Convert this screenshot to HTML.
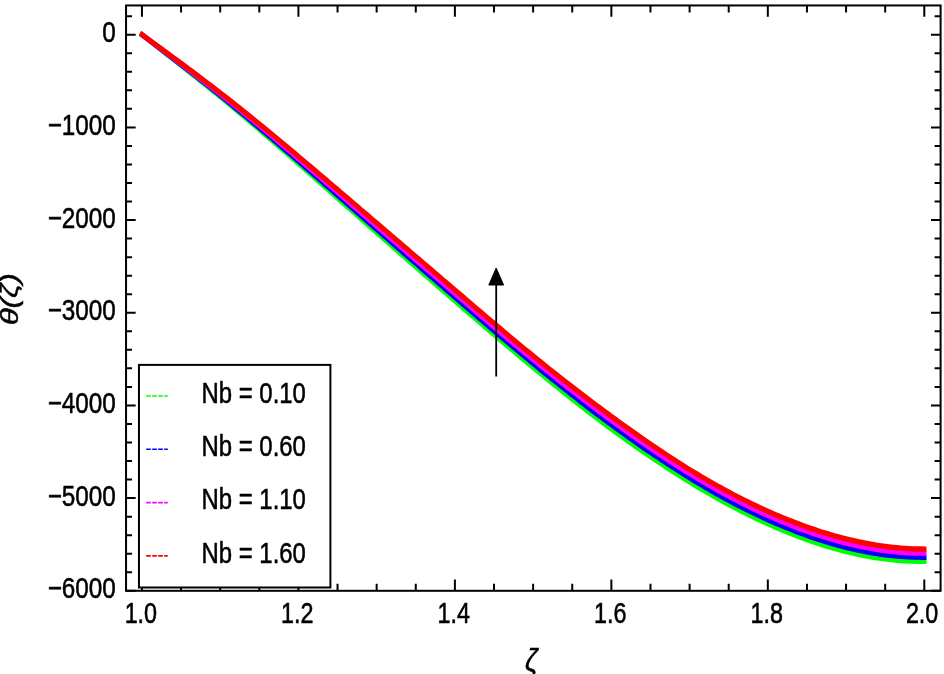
<!DOCTYPE html>
<html lang="en"><head><meta charset="utf-8"><title>Plot</title>
<style>html,body{margin:0;padding:0;background:#fff}body{width:944px;height:674px;overflow:hidden}svg{display:block}text{font-family:"Liberation Sans",sans-serif;fill:#000}</style></head><body>
<svg width="944" height="674" viewBox="0 0 944 674">
<rect width="944" height="674" fill="#fff"/>
<g transform="scale(1.0,1)">
<g transform="scale(0.8,1)">
<path d="M177.44,34.70 L182.33,37.77 L187.22,40.83 L192.11,43.89 L197.00,46.96 L201.89,50.02 L206.78,53.09 L211.67,56.16 L216.56,59.24 L221.44,62.32 L226.33,65.40 L231.22,68.49 L236.11,71.60 L241.00,74.71 L245.89,77.83 L250.78,80.96 L255.67,84.10 L260.56,87.25 L265.45,90.42 L270.34,93.60 L275.23,96.80 L280.12,100.01 L285.01,103.24 L289.90,106.49 L294.79,109.75 L299.68,113.02 L304.57,116.31 L309.46,119.61 L314.35,122.93 L319.24,126.26 L324.13,129.59 L329.02,132.94 L333.91,136.30 L338.80,139.67 L343.69,143.05 L348.58,146.44 L353.47,149.84 L358.36,153.24 L363.25,156.66 L368.14,160.08 L373.02,163.50 L377.91,166.93 L382.80,170.37 L387.69,173.81 L392.58,177.26 L397.47,180.72 L402.36,184.17 L407.25,187.63 L412.14,191.10 L417.03,194.56 L421.92,198.03 L426.81,201.49 L431.70,204.96 L436.59,208.43 L441.48,211.89 L446.37,215.35 L451.26,218.81 L456.15,222.26 L461.04,225.72 L465.93,229.16 L470.82,232.60 L475.71,236.04 L480.60,239.47 L485.49,242.90 L490.38,246.33 L495.27,249.76 L500.16,253.19 L505.05,256.61 L509.94,260.03 L514.83,263.45 L519.72,266.87 L524.61,270.28 L529.49,273.70 L534.38,277.11 L539.27,280.51 L544.16,283.92 L549.05,287.32 L553.94,290.72 L558.83,294.12 L563.72,297.51 L568.61,300.90 L573.50,304.29 L578.39,307.67 L583.28,311.05 L588.17,314.43 L593.06,317.80 L597.95,321.16 L602.84,324.52 L607.73,327.87 L612.62,331.22 L617.51,334.56 L622.40,337.89 L627.29,341.21 L632.18,344.52 L637.07,347.82 L641.96,351.11 L646.85,354.40 L651.74,357.67 L656.63,360.92 L661.52,364.17 L666.41,367.40 L671.30,370.62 L676.19,373.83 L681.08,377.04 L685.96,380.23 L690.85,383.41 L695.74,386.58 L700.63,389.73 L705.52,392.87 L710.41,395.99 L715.30,399.10 L720.19,402.18 L725.08,405.25 L729.97,408.30 L734.86,411.33 L739.75,414.33 L744.64,417.32 L749.53,420.28 L754.42,423.21 L759.31,426.12 L764.20,429.00 L769.09,431.86 L773.98,434.69 L778.87,437.51 L783.76,440.31 L788.65,443.08 L793.54,445.83 L798.43,448.56 L803.32,451.27 L808.21,453.96 L813.10,456.63 L817.99,459.27 L822.88,461.88 L827.77,464.48 L832.66,467.05 L837.55,469.59 L842.44,472.12 L847.32,474.61 L852.21,477.08 L857.10,479.53 L861.99,481.95 L866.88,484.34 L871.77,486.70 L876.66,489.04 L881.55,491.34 L886.44,493.61 L891.33,495.85 L896.22,498.06 L901.11,500.24 L906.00,502.38 L910.89,504.50 L915.78,506.58 L920.67,508.62 L925.56,510.64 L930.45,512.62 L935.34,514.57 L940.23,516.48 L945.12,518.37 L950.01,520.21 L954.90,522.02 L959.79,523.80 L964.68,525.54 L969.57,527.25 L974.46,528.92 L979.35,530.56 L984.24,532.16 L989.13,533.72 L994.02,535.25 L998.90,536.74 L1003.79,538.19 L1008.68,539.60 L1013.57,540.97 L1018.46,542.31 L1023.35,543.60 L1028.24,544.86 L1033.13,546.07 L1038.02,547.24 L1042.91,548.37 L1047.80,549.46 L1052.69,550.50 L1057.58,551.50 L1062.47,552.46 L1067.36,553.37 L1072.25,554.23 L1077.14,555.05 L1082.03,555.82 L1086.92,556.54 L1091.81,557.21 L1096.70,557.83 L1101.59,558.41 L1106.48,558.93 L1111.37,559.40 L1116.26,559.82 L1121.15,560.19 L1126.04,560.51 L1130.93,560.78 L1135.82,560.99 L1140.71,561.15 L1145.60,561.25 L1150.49,561.30 L1155.37,561.30" fill="none" stroke="#00ff00" stroke-width="5.4" stroke-linejoin="round" stroke-linecap="square"/>
<path d="M177.44,34.70 L182.33,37.69 L187.22,40.68 L192.11,43.66 L197.00,46.65 L201.89,49.64 L206.78,52.64 L211.67,55.64 L216.56,58.64 L221.44,61.65 L226.33,64.67 L231.22,67.69 L236.11,70.73 L241.00,73.77 L245.89,76.83 L250.78,79.89 L255.67,82.97 L260.56,86.06 L265.45,89.17 L270.34,92.29 L275.23,95.43 L280.12,98.59 L285.01,101.76 L289.90,104.95 L294.79,108.16 L299.68,111.38 L304.57,114.62 L309.46,117.87 L314.35,121.13 L319.24,124.41 L324.13,127.70 L329.02,131.00 L333.91,134.31 L338.80,137.63 L343.69,140.96 L348.58,144.31 L353.47,147.66 L358.36,151.01 L363.25,154.38 L368.14,157.75 L373.02,161.13 L377.91,164.52 L382.80,167.91 L387.69,171.31 L392.58,174.71 L397.47,178.12 L402.36,181.53 L407.25,184.95 L412.14,188.36 L417.03,191.78 L421.92,195.21 L426.81,198.63 L431.70,202.05 L436.59,205.48 L441.48,208.90 L446.37,212.32 L451.26,215.74 L456.15,219.16 L461.04,222.58 L465.93,225.99 L470.82,229.40 L475.71,232.81 L480.60,236.21 L485.49,239.61 L490.38,243.02 L495.27,246.42 L500.16,249.82 L505.05,253.21 L509.94,256.61 L514.83,260.00 L519.72,263.40 L524.61,266.79 L529.49,270.18 L534.38,273.57 L539.27,276.95 L544.16,280.34 L549.05,283.72 L553.94,287.10 L558.83,290.48 L563.72,293.86 L568.61,297.23 L573.50,300.61 L578.39,303.98 L583.28,307.35 L588.17,310.71 L593.06,314.07 L597.95,317.43 L602.84,320.78 L607.73,324.12 L612.62,327.46 L617.51,330.79 L622.40,334.11 L627.29,337.42 L632.18,340.73 L637.07,344.02 L641.96,347.30 L646.85,350.57 L651.74,353.83 L656.63,357.08 L661.52,360.31 L666.41,363.53 L671.30,366.74 L676.19,369.94 L681.08,373.12 L685.96,376.29 L690.85,379.45 L695.74,382.59 L700.63,385.72 L705.52,388.83 L710.41,391.93 L715.30,395.01 L720.19,398.08 L725.08,401.12 L729.97,404.15 L734.86,407.16 L739.75,410.15 L744.64,413.11 L749.53,416.06 L754.42,418.99 L759.31,421.89 L764.20,424.77 L769.09,427.62 L773.98,430.46 L778.87,433.28 L783.76,436.08 L788.65,438.86 L793.54,441.62 L798.43,444.36 L803.32,447.08 L808.21,449.77 L813.10,452.44 L817.99,455.09 L822.88,457.72 L827.77,460.32 L832.66,462.89 L837.55,465.45 L842.44,467.97 L847.32,470.47 L852.21,472.95 L857.10,475.40 L861.99,477.82 L866.88,480.21 L871.77,482.57 L876.66,484.90 L881.55,487.20 L886.44,489.47 L891.33,491.71 L896.22,493.92 L901.11,496.09 L906.00,498.24 L910.89,500.35 L915.78,502.43 L920.67,504.47 L925.56,506.49 L930.45,508.47 L935.34,510.41 L940.23,512.33 L945.12,514.20 L950.01,516.05 L954.90,517.86 L959.79,519.63 L964.68,521.37 L969.57,523.08 L974.46,524.75 L979.35,526.38 L984.24,527.98 L989.13,529.54 L994.02,531.07 L998.90,532.55 L1003.79,534.00 L1008.68,535.41 L1013.57,536.78 L1018.46,538.12 L1023.35,539.41 L1028.24,540.66 L1033.13,541.87 L1038.02,543.04 L1042.91,544.17 L1047.80,545.26 L1052.69,546.30 L1057.58,547.30 L1062.47,548.26 L1067.36,549.17 L1072.25,550.03 L1077.14,550.85 L1082.03,551.63 L1086.92,552.35 L1091.81,553.03 L1096.70,553.66 L1101.59,554.24 L1106.48,554.77 L1111.37,555.25 L1116.26,555.68 L1121.15,556.06 L1126.04,556.38 L1130.93,556.66 L1135.82,556.88 L1140.71,557.05 L1145.60,557.17 L1150.49,557.23 L1155.37,557.23" fill="none" stroke="#0000ff" stroke-width="5.4" stroke-linejoin="round" stroke-linecap="square"/>
<path d="M177.44,34.70 L182.33,37.61 L187.22,40.52 L192.11,43.43 L197.00,46.35 L201.89,49.27 L206.78,52.19 L211.67,55.12 L216.56,58.05 L221.44,60.99 L226.33,63.94 L231.22,66.89 L236.11,69.86 L241.00,72.84 L245.89,75.83 L250.78,78.83 L255.67,81.84 L260.56,84.88 L265.45,87.92 L270.34,90.99 L275.23,94.07 L280.12,97.17 L285.01,100.28 L289.90,103.42 L294.79,106.57 L299.68,109.74 L304.57,112.92 L309.46,116.12 L314.35,119.33 L319.24,122.56 L324.13,125.80 L329.02,129.05 L333.91,132.32 L338.80,135.59 L343.69,138.87 L348.58,142.17 L353.47,145.47 L358.36,148.79 L363.25,152.11 L368.14,155.43 L373.02,158.77 L377.91,162.11 L382.80,165.45 L387.69,168.80 L392.58,172.16 L397.47,175.52 L402.36,178.89 L407.25,182.26 L412.14,185.63 L417.03,189.01 L421.92,192.38 L426.81,195.76 L431.70,199.15 L436.59,202.53 L441.48,205.91 L446.37,209.30 L451.26,212.68 L456.15,216.06 L461.04,219.44 L465.93,222.82 L470.82,226.20 L475.71,229.58 L480.60,232.95 L485.49,236.33 L490.38,239.70 L495.27,243.07 L500.16,246.44 L505.05,249.82 L509.94,253.19 L514.83,256.55 L519.72,259.92 L524.61,263.29 L529.49,266.66 L534.38,270.02 L539.27,273.39 L544.16,276.75 L549.05,280.12 L553.94,283.48 L558.83,286.84 L563.72,290.21 L568.61,293.57 L573.50,296.93 L578.39,300.29 L583.28,303.64 L588.17,307.00 L593.06,310.35 L597.95,313.69 L602.84,317.03 L607.73,320.37 L612.62,323.70 L617.51,327.02 L622.40,330.33 L627.29,333.64 L632.18,336.93 L637.07,340.22 L641.96,343.49 L646.85,346.75 L651.74,350.00 L656.63,353.24 L661.52,356.46 L666.41,359.67 L671.30,362.86 L676.19,366.04 L681.08,369.20 L685.96,372.35 L690.85,375.49 L695.74,378.61 L700.63,381.71 L705.52,384.80 L710.41,387.87 L715.30,390.93 L720.19,393.97 L725.08,396.99 L729.97,400.00 L734.86,402.99 L739.75,405.96 L744.64,408.91 L749.53,411.84 L754.42,414.76 L759.31,417.66 L764.20,420.53 L769.09,423.39 L773.98,426.23 L778.87,429.06 L783.76,431.86 L788.65,434.65 L793.54,437.41 L798.43,440.15 L803.32,442.88 L808.21,445.58 L813.10,448.26 L817.99,450.91 L822.88,453.55 L827.77,456.16 L832.66,458.74 L837.55,461.30 L842.44,463.83 L847.32,466.33 L852.21,468.81 L857.10,471.26 L861.99,473.68 L866.88,476.08 L871.77,478.44 L876.66,480.77 L881.55,483.07 L886.44,485.34 L891.33,487.57 L896.22,489.78 L901.11,491.95 L906.00,494.09 L910.89,496.20 L915.78,498.28 L920.67,500.32 L925.56,502.34 L930.45,504.31 L935.34,506.26 L940.23,508.17 L945.12,510.04 L950.01,511.89 L954.90,513.69 L959.79,515.47 L964.68,517.21 L969.57,518.91 L974.46,520.58 L979.35,522.21 L984.24,523.80 L989.13,525.36 L994.02,526.89 L998.90,528.37 L1003.79,529.82 L1008.68,531.23 L1013.57,532.59 L1018.46,533.92 L1023.35,535.22 L1028.24,536.47 L1033.13,537.67 L1038.02,538.84 L1042.91,539.97 L1047.80,541.06 L1052.69,542.10 L1057.58,543.10 L1062.47,544.06 L1067.36,544.97 L1072.25,545.84 L1077.14,546.66 L1082.03,547.44 L1086.92,548.17 L1091.81,548.85 L1096.70,549.48 L1101.59,550.07 L1106.48,550.61 L1111.37,551.10 L1116.26,551.53 L1121.15,551.92 L1126.04,552.26 L1130.93,552.54 L1135.82,552.77 L1140.71,552.95 L1145.60,553.08 L1150.49,553.15 L1155.37,553.17" fill="none" stroke="#ff00ff" stroke-width="5.4" stroke-linejoin="round" stroke-linecap="square"/>
<path d="M177.44,34.70 L182.33,37.53 L187.22,40.37 L192.11,43.21 L197.00,46.05 L201.89,48.89 L206.78,51.74 L211.67,54.59 L216.56,57.46 L221.44,60.32 L226.33,63.20 L231.22,66.09 L236.11,68.99 L241.00,71.90 L245.89,74.83 L250.78,77.77 L255.67,80.72 L260.56,83.69 L265.45,86.67 L270.34,89.68 L275.23,92.70 L280.12,95.74 L285.01,98.80 L289.90,101.88 L294.79,104.98 L299.68,108.10 L304.57,111.23 L309.46,114.37 L314.35,117.54 L319.24,120.71 L324.13,123.90 L329.02,127.11 L333.91,130.32 L338.80,133.55 L343.69,136.78 L348.58,140.03 L353.47,143.29 L358.36,146.56 L363.25,149.83 L368.14,153.11 L373.02,156.40 L377.91,159.69 L382.80,162.99 L387.69,166.30 L392.58,169.61 L397.47,172.93 L402.36,176.25 L407.25,179.57 L412.14,182.90 L417.03,186.23 L421.92,189.56 L426.81,192.90 L431.70,196.24 L436.59,199.58 L441.48,202.92 L446.37,206.27 L451.26,209.61 L456.15,212.96 L461.04,216.31 L465.93,219.65 L470.82,223.00 L475.71,226.35 L480.60,229.69 L485.49,233.04 L490.38,236.38 L495.27,239.73 L500.16,243.07 L505.05,246.42 L509.94,249.76 L514.83,253.11 L519.72,256.45 L524.61,259.79 L529.49,263.14 L534.38,266.48 L539.27,269.83 L544.16,273.17 L549.05,276.52 L553.94,279.86 L558.83,283.21 L563.72,286.55 L568.61,289.90 L573.50,293.25 L578.39,296.59 L583.28,299.94 L588.17,303.28 L593.06,306.62 L597.95,309.96 L602.84,313.29 L607.73,316.62 L612.62,319.94 L617.51,323.25 L622.40,326.56 L627.29,329.85 L632.18,333.14 L637.07,336.41 L641.96,339.68 L646.85,342.93 L651.74,346.17 L656.63,349.40 L661.52,352.61 L666.41,355.80 L671.30,358.98 L676.19,362.14 L681.08,365.29 L685.96,368.41 L690.85,371.53 L695.74,374.62 L700.63,377.70 L705.52,380.77 L710.41,383.82 L715.30,386.85 L720.19,389.86 L725.08,392.86 L729.97,395.85 L734.86,398.82 L739.75,401.77 L744.64,404.71 L749.53,407.63 L754.42,410.53 L759.31,413.43 L764.20,416.30 L769.09,419.16 L773.98,422.00 L778.87,424.83 L783.76,427.64 L788.65,430.43 L793.54,433.20 L798.43,435.95 L803.32,438.68 L808.21,441.39 L813.10,444.08 L817.99,446.74 L822.88,449.38 L827.77,451.99 L832.66,454.58 L837.55,457.15 L842.44,459.68 L847.32,462.19 L852.21,464.68 L857.10,467.13 L861.99,469.55 L866.88,471.94 L871.77,474.30 L876.66,476.63 L881.55,478.93 L886.44,481.20 L891.33,483.43 L896.22,485.64 L901.11,487.81 L906.00,489.95 L910.89,492.06 L915.78,494.13 L920.67,496.17 L925.56,498.18 L930.45,500.16 L935.34,502.10 L940.23,504.01 L945.12,505.88 L950.01,507.72 L954.90,509.53 L959.79,511.30 L964.68,513.04 L969.57,514.74 L974.46,516.40 L979.35,518.03 L984.24,519.63 L989.13,521.19 L994.02,522.70 L998.90,524.19 L1003.79,525.63 L1008.68,527.04 L1013.57,528.41 L1018.46,529.73 L1023.35,531.02 L1028.24,532.27 L1033.13,533.48 L1038.02,534.65 L1042.91,535.77 L1047.80,536.86 L1052.69,537.90 L1057.58,538.90 L1062.47,539.86 L1067.36,540.77 L1072.25,541.64 L1077.14,542.47 L1082.03,543.25 L1086.92,543.98 L1091.81,544.67 L1096.70,545.31 L1101.59,545.90 L1106.48,546.45 L1111.37,546.94 L1116.26,547.39 L1121.15,547.79 L1126.04,548.13 L1130.93,548.42 L1135.82,548.67 L1140.71,548.85 L1145.60,548.99 L1150.49,549.07 L1155.37,549.10" fill="none" stroke="#ff0000" stroke-width="5.4" stroke-linejoin="round" stroke-linecap="square"/>
</g>
<line x1="496.20" y1="376.5" x2="496.20" y2="284" stroke="#000" stroke-width="1.8"/>
<polygon points="496.20,268.1 488.80,285 503.60,285" fill="#000" stroke="#000" stroke-width="1" stroke-linejoin="round"/>
<path d="M141.95,5.45 v11.4 M141.95,590.8 v-11.4 M181.07,5.45 v7.0 M181.07,590.8 v-7.0 M220.19,5.45 v7.0 M220.19,590.8 v-7.0 M259.30,5.45 v7.0 M259.30,590.8 v-7.0 M298.42,5.45 v11.4 M298.42,590.8 v-11.4 M337.54,5.45 v7.0 M337.54,590.8 v-7.0 M376.65,5.45 v7.0 M376.65,590.8 v-7.0 M415.77,5.45 v7.0 M415.77,590.8 v-7.0 M454.89,5.45 v11.4 M454.89,590.8 v-11.4 M494.01,5.45 v7.0 M494.01,590.8 v-7.0 M533.12,5.45 v7.0 M533.12,590.8 v-7.0 M572.24,5.45 v7.0 M572.24,590.8 v-7.0 M611.36,5.45 v11.4 M611.36,590.8 v-11.4 M650.48,5.45 v7.0 M650.48,590.8 v-7.0 M689.60,5.45 v7.0 M689.60,590.8 v-7.0 M728.71,5.45 v7.0 M728.71,590.8 v-7.0 M767.83,5.45 v11.4 M767.83,590.8 v-11.4 M806.95,5.45 v7.0 M806.95,590.8 v-7.0 M846.06,5.45 v7.0 M846.06,590.8 v-7.0 M885.18,5.45 v7.0 M885.18,590.8 v-7.0 M924.30,5.45 v11.4 M924.30,590.8 v-11.4 M126.05,16.16 h6.0 M940.60,16.16 h-6.0 M126.05,34.70 h9.6 M940.60,34.70 h-9.6 M126.05,53.24 h6.0 M940.60,53.24 h-6.0 M126.05,71.77 h6.0 M940.60,71.77 h-6.0 M126.05,90.31 h6.0 M940.60,90.31 h-6.0 M126.05,108.84 h6.0 M940.60,108.84 h-6.0 M126.05,127.38 h9.6 M940.60,127.38 h-9.6 M126.05,145.92 h6.0 M940.60,145.92 h-6.0 M126.05,164.45 h6.0 M940.60,164.45 h-6.0 M126.05,182.99 h6.0 M940.60,182.99 h-6.0 M126.05,201.52 h6.0 M940.60,201.52 h-6.0 M126.05,220.06 h9.6 M940.60,220.06 h-9.6 M126.05,238.60 h6.0 M940.60,238.60 h-6.0 M126.05,257.13 h6.0 M940.60,257.13 h-6.0 M126.05,275.67 h6.0 M940.60,275.67 h-6.0 M126.05,294.20 h6.0 M940.60,294.20 h-6.0 M126.05,312.74 h9.6 M940.60,312.74 h-9.6 M126.05,331.28 h6.0 M940.60,331.28 h-6.0 M126.05,349.81 h6.0 M940.60,349.81 h-6.0 M126.05,368.35 h6.0 M940.60,368.35 h-6.0 M126.05,386.88 h6.0 M940.60,386.88 h-6.0 M126.05,405.42 h9.6 M940.60,405.42 h-9.6 M126.05,423.96 h6.0 M940.60,423.96 h-6.0 M126.05,442.49 h6.0 M940.60,442.49 h-6.0 M126.05,461.03 h6.0 M940.60,461.03 h-6.0 M126.05,479.56 h6.0 M940.60,479.56 h-6.0 M126.05,498.10 h9.6 M940.60,498.10 h-9.6 M126.05,516.64 h6.0 M940.60,516.64 h-6.0 M126.05,535.17 h6.0 M940.60,535.17 h-6.0 M126.05,553.71 h6.0 M940.60,553.71 h-6.0 M126.05,572.24 h6.0 M940.60,572.24 h-6.0 M126.05,590.78 h9.6 M940.60,590.78 h-9.6" stroke="#000" stroke-width="2.0" fill="none"/>
<rect x="126.05" y="5.45" width="814.55" height="585.3499999999999" fill="none" stroke="#000" stroke-width="2.0"/>
<rect x="138.95" y="364.9" width="191.45" height="222.60000000000002" fill="#fff" stroke="#000" stroke-width="2"/>
<line x1="146.20" y1="396.05" x2="167.80" y2="396.05" stroke="#00ff00" stroke-width="1.6" stroke-dasharray="4.6 1.4"/>
<line x1="146.20" y1="449.32" x2="167.80" y2="449.32" stroke="#0000ff" stroke-width="1.6" stroke-dasharray="4.6 1.4"/>
<line x1="146.20" y1="502.59" x2="167.80" y2="502.59" stroke="#ff00ff" stroke-width="1.6" stroke-dasharray="4.6 1.4"/>
<line x1="146.20" y1="555.86" x2="167.80" y2="555.86" stroke="#ff0000" stroke-width="1.6" stroke-dasharray="4.6 1.4"/>
</g>
<g stroke="#000" stroke-width="0.55">
<text transform="translate(201.60,402.80) scale(0.813,1)" font-size="29.4" text-anchor="start">Nb = 0.10</text>
<text transform="translate(201.60,456.07) scale(0.813,1)" font-size="29.4" text-anchor="start">Nb = 0.60</text>
<text transform="translate(201.60,509.34) scale(0.813,1)" font-size="29.4" text-anchor="start">Nb = 1.10</text>
<text transform="translate(201.60,562.61) scale(0.813,1)" font-size="29.4" text-anchor="start">Nb = 1.60</text>
<text transform="translate(115.80,42.20) scale(0.825,1)" font-size="29.4" text-anchor="end">0</text>
<text transform="translate(115.80,134.88) scale(0.825,1)" font-size="29.4" text-anchor="end">−1000</text>
<text transform="translate(115.80,227.56) scale(0.825,1)" font-size="29.4" text-anchor="end">−2000</text>
<text transform="translate(115.80,320.24) scale(0.825,1)" font-size="29.4" text-anchor="end">−3000</text>
<text transform="translate(115.80,412.92) scale(0.825,1)" font-size="29.4" text-anchor="end">−4000</text>
<text transform="translate(115.80,505.60) scale(0.825,1)" font-size="29.4" text-anchor="end">−5000</text>
<text transform="translate(115.80,598.28) scale(0.825,1)" font-size="29.4" text-anchor="end">−6000</text>
<text transform="translate(140.85,623.40) scale(0.813,1)" font-size="28.7" text-anchor="middle">1.0</text>
<text transform="translate(297.32,623.40) scale(0.813,1)" font-size="28.7" text-anchor="middle">1.2</text>
<text transform="translate(453.79,623.40) scale(0.813,1)" font-size="28.7" text-anchor="middle">1.4</text>
<text transform="translate(610.26,623.40) scale(0.813,1)" font-size="28.7" text-anchor="middle">1.6</text>
<text transform="translate(766.73,623.40) scale(0.813,1)" font-size="28.7" text-anchor="middle">1.8</text>
<text transform="translate(922.10,623.40) scale(0.813,1)" font-size="28.7" text-anchor="middle">2.0</text>
<text transform="translate(531.30,671.00) scale(0.88,1)" font-size="31.3" text-anchor="middle" font-style="italic">ζ</text>
<text transform="translate(17.8,299.3) rotate(-90) scale(1.06,0.813)" font-size="29.4" font-style="italic" text-anchor="middle">θ(ζ)</text>
</g>
</svg></body></html>
